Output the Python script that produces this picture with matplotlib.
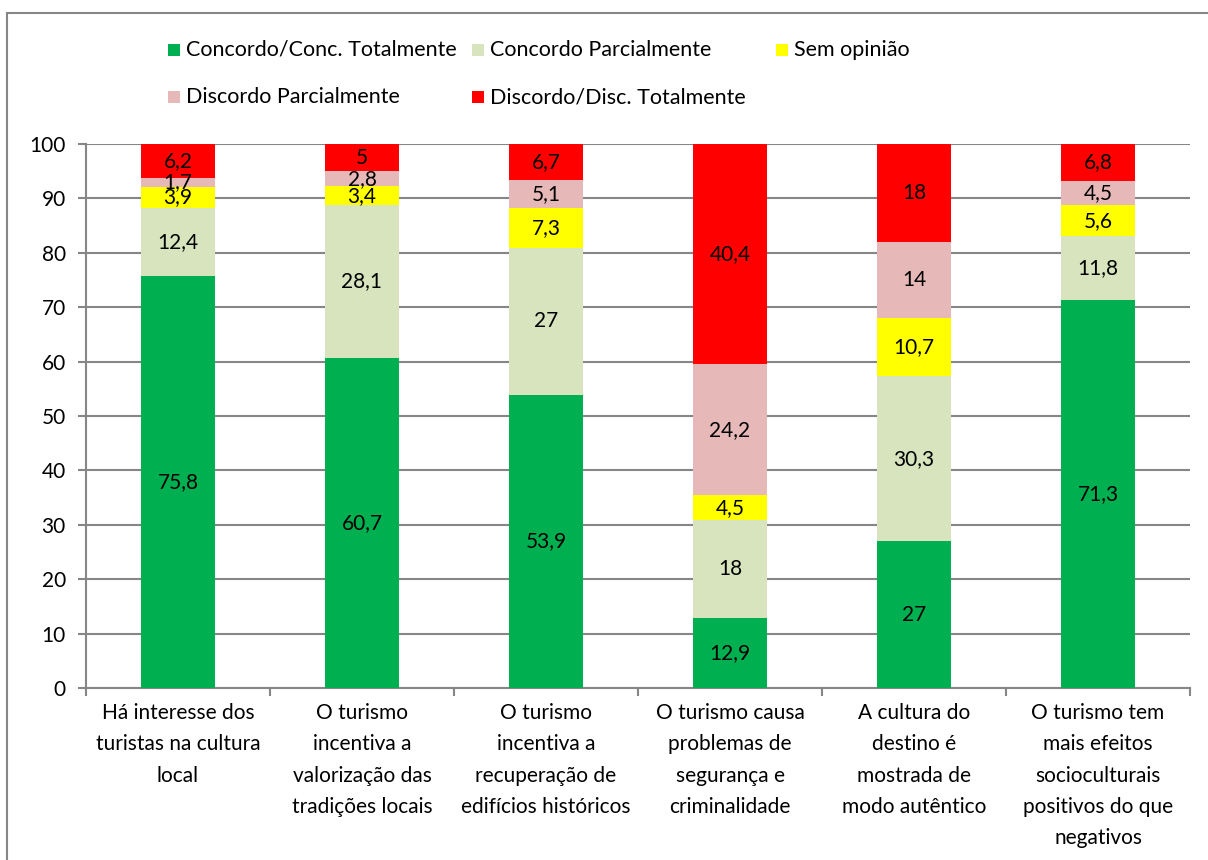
import numpy as np
import matplotlib
matplotlib.use("Agg")
import matplotlib.pyplot as plt
from matplotlib.patches import Rectangle

plt.rcParams['font.family'] = ['Lato', 'DejaVu Sans']

# ── 数据 ──────────────────────────────────────
categories = [
    "Há interesse dos\nturistas na cultura\nlocal",
    "O turismo\nincentiva a\nvalorização das\ntradições locais",
    "O turismo\nincentiva a\nrecuperação de\nedifícios históricos",
    "O turismo causa\nproblemas de\nsegurança e\ncriminalidade",
    "A cultura do\ndestino é\nmostrada de\nmodo autêntico",
    "O turismo tem\nmais efeitos\nsocioculturais\npositivos do que\nnegativos",
]
series_names = ["Concordo/Conc. Totalmente", "Concordo Parcialmente", "Sem opinião",
                "Discordo Parcialmente", "Discordo/Disc. Totalmente"]
concordo_total = [75.8, 60.7, 53.9, 12.9, 27, 71.3]
concordo_parc = [12.4, 28.1, 27, 18, 30.3, 11.8]
sem_opiniao = [3.9, 3.4, 7.3, 4.5, 10.7, 5.6]
discordo_parc = [1.7, 2.8, 5.1, 24.2, 14, 4.5]
discordo_total = [6.2, 5, 6.7, 40.4, 18, 6.8]

series = [concordo_total, concordo_parc, sem_opiniao, discordo_parc, discordo_total]
colors = ["#00B050", "#D7E4BD", "#FFFF00", "#E6B9B8", "#FF0000"]

W, H = 1208, 860
FS = 15

# ── 绘图 ──────────────────────────────────────
fig = plt.figure(figsize=(W / 100, H / 100), dpi=100)
ax = fig.add_axes([86 / W, 1 - 688 / H, (1190 - 86) / W, (688 - 144) / H])

# 外框
fig.patches.append(Rectangle((7 / W, -0.01), 1.02, 1 - 13 / H + 0.01, transform=fig.transFigure,
                             fill=False, edgecolor="#868686", linewidth=1.5, clip_on=False))

x = np.arange(len(categories))
bottom = np.zeros(len(categories))
for vals, col in zip(series, colors):
    vals = np.array(vals, dtype=float)
    ax.bar(x, vals, bottom=bottom, width=0.4, color=col, zorder=3)
    for xi, b, v in zip(x, bottom, vals):
        txt = f"{v:g}".replace(".", ",")
        ax.text(xi, b + v / 2, txt, ha="center", va="center", fontsize=FS, zorder=4)
    bottom += vals

ax.set_xlim(-0.5, len(categories) - 0.5)
ax.set_ylim(0, 100)
ax.set_yticks(range(0, 101, 10))
ax.yaxis.grid(True, color="#868686", linewidth=1.5, zorder=0)
ax.set_axisbelow(True)

ax.set_xticks(x)
ax.set_xticklabels(categories, fontsize=FS, linespacing=1.7)
ax.tick_params(axis="x", length=0, pad=11)
ax.set_xticks(np.arange(-0.5, len(categories)), minor=True)
ax.tick_params(axis="x", which="minor", length=5.5, width=1.5, color="#868686")
ax.tick_params(axis="y", labelsize=FS, length=5.5, width=1.5, color="#868686", pad=9)

for s in ["top", "right"]:
    ax.spines[s].set_visible(False)
for s in ["left", "bottom"]:
    ax.spines[s].set_color("#868686")
    ax.spines[s].set_linewidth(1.5)

# 图例（逐项放置，行优先）
leg_pos = [(168, 50), (472, 50), (776, 50), (168, 97), (472, 97)]
for (px, py), col, name in zip(leg_pos, colors, series_names):
    fig.patches.append(Rectangle((px / W, 1 - (py + 6) / H), 12 / W, 12 / H,
                                 transform=fig.transFigure, facecolor=col, edgecolor="none"))
    fig.text((px + 18) / W, 1 - py / H, name, fontsize=FS + 0.5, ha="left", va="center")

fig.savefig("out.png", dpi=100)
